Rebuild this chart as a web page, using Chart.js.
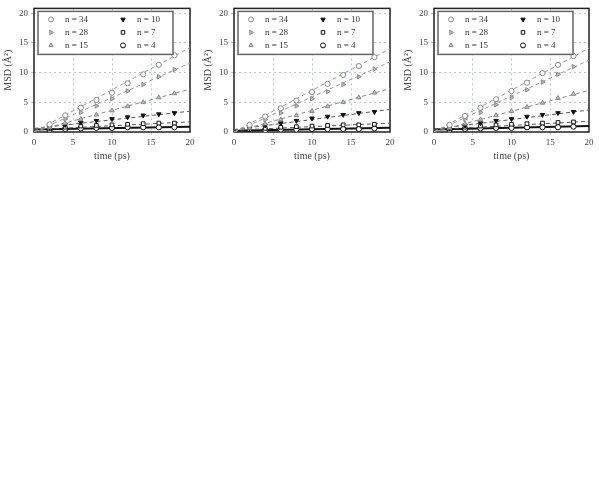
<!DOCTYPE html>
<html>
<head>
<meta charset="utf-8">
<script src="https://cdn.jsdelivr.net/npm/chart.js@4/dist/chart.umd.min.js"></script>
<style>
  html, body { margin: 0; padding: 0; background: #fff; }
  body { width: 599px; height: 496px; position: relative; overflow: hidden; }
  .panel { position: absolute; top: 0; height: 170px; }
</style>
</head>
<body>
<div class="panel" style="left:0px;width:200px"><canvas id="c1"></canvas></div>
<div class="panel" style="left:200px;width:200px"><canvas id="c2"></canvas></div>
<div class="panel" style="left:400px;width:199px"><canvas id="c3"></canvas></div>
<script>
// ---- data ----
const times = [2, 4, 6, 8, 10, 12, 14, 16, 18];
const fitX = [0, 20];
const xTicks = [0, 5, 10, 15, 20];
const yTicks = [0, 5, 10, 15, 20];
const seriesNames = ["n = 34", "n = 28", "n = 15", "n = 10", "n = 7", "n = 4"];

// panel 1
const p1_n34 = [1.3, 2.8, 4.1, 5.4, 6.6, 8.2, 9.7, 11.3, 12.9];
const p1_n28 = [1.1, 2.2, 3.3, 4.4, 5.6, 6.9, 8.0, 9.3, 10.5];
const p1_n15 = [0.8, 1.5, 2.2, 2.9, 3.6, 4.3, 5.0, 5.8, 6.5];
const p1_n10 = [0.7, 1.2, 1.6, 1.9, 2.2, 2.5, 2.8, 3.0, 3.2];
const p1_n7  = [0.5, 0.8, 1.0, 1.1, 1.2, 1.3, 1.4, 1.5, 1.5];
const p1_n4  = [0.3, 0.5, 0.6, 0.7, 0.7, 0.8, 0.8, 0.8, 0.8];
const p1_fits = [[0, 14.2], [0, 11.6], [0.1, 7.2], [0.6, 3.5], [0.4, 1.7], [0.4, 0.9]];

// panel 2
const p2_n34 = [1.2, 2.6, 4.0, 5.3, 6.7, 8.1, 9.6, 11.1, 12.6];
const p2_n28 = [1.0, 2.1, 3.2, 4.4, 5.6, 6.8, 8.0, 9.3, 10.6];
const p2_n15 = [0.7, 1.4, 2.1, 2.8, 3.5, 4.3, 5.0, 5.8, 6.6];
const p2_n10 = [0.6, 1.1, 1.5, 1.9, 2.3, 2.6, 2.9, 3.2, 3.4];
const p2_n7  = [0.4, 0.6, 0.8, 0.9, 1.0, 1.1, 1.2, 1.2, 1.3];
const p2_n4  = [0.2, 0.3, 0.4, 0.4, 0.5, 0.5, 0.5, 0.5, 0.6];
const p2_fits = [[0, 14.0], [0, 11.8], [0, 7.3], [0.4, 3.8], [0.3, 1.5], [0.2, 0.7]];

// panel 3
const p3_n34 = [1.2, 2.7, 4.1, 5.5, 6.9, 8.3, 9.9, 11.3, 12.8];
const p3_n28 = [1.0, 2.2, 3.3, 4.6, 5.8, 7.1, 8.4, 9.7, 11.0];
const p3_n15 = [0.7, 1.4, 2.1, 2.8, 3.5, 4.2, 4.9, 5.7, 6.4];
const p3_n10 = [0.6, 1.1, 1.5, 1.9, 2.2, 2.6, 2.9, 3.2, 3.4];
const p3_n7  = [0.5, 0.8, 1.0, 1.2, 1.3, 1.4, 1.5, 1.6, 1.7];
const p3_n4  = [0.3, 0.5, 0.6, 0.7, 0.7, 0.8, 0.8, 0.8, 0.9];
const p3_fits = [[0, 14.1], [0, 12.1], [0, 7.0], [0.5, 3.7], [0.4, 1.8], [0.4, 1.0]];

// ---- styles ----
const markerStyles = [
  { pointStyle: 'circle',   rotation: 0,   color: '#8a8a8a', fill: '#ffffff' },
  { pointStyle: 'triangle', rotation: 90,  color: '#8a8a8a', fill: '#bdbdbd' },
  { pointStyle: 'triangle', rotation: 0,   color: '#8a8a8a', fill: '#bdbdbd' },
  { pointStyle: 'triangle', rotation: 180, color: '#111111', fill: '#111111' },
  { pointStyle: 'rect',     rotation: 0,   color: '#111111', fill: '#ffffff' },
  { pointStyle: 'circle',   rotation: 0,   color: '#111111', fill: '#ffffff' }
];
const fitStyles = [
  { color: '#9a9a9a', dash: [4, 3], width: 1 },
  { color: '#9a9a9a', dash: [4, 3], width: 1 },
  { color: '#8a8a8a', dash: [4, 3], width: 1 },
  { color: '#555555', dash: [4, 3], width: 1 },
  { color: '#555555', dash: [4, 3], width: 1 },
  { color: '#111111', dash: [],     width: 2 }
];

const frameLegend = {
  id: 'frameLegend',
  beforeDatasetsDraw(chart) {
    const { ctx, chartArea: a } = chart;
    ctx.save();
    ctx.strokeStyle = '#222';
    ctx.lineWidth = 1.5;
    ctx.strokeRect(a.left, a.top, a.right - a.left, a.bottom - a.top);
    ctx.restore();
  },
  afterDatasetsDraw(chart) {
    const { ctx, chartArea: a } = chart;
    const bx = a.left + 4, by = a.top + 3, bw = 135, bh = 43;
    ctx.save();
    ctx.fillStyle = '#fff';
    ctx.fillRect(bx, by, bw, bh);
    ctx.strokeStyle = '#666';
    ctx.lineWidth = 1.5;
    ctx.strokeRect(bx, by, bw, bh);
    ctx.font = '9px "Liberation Serif", serif';
    ctx.textBaseline = 'middle';
    for (let i = 0; i < 6; i++) {
      const col = Math.floor(i / 3), row = i % 3;
      const mx = bx + 13 + col * 72, my = by + 8 + row * 13;
      const m = markerStyles[i];
      ctx.strokeStyle = m.color;
      ctx.fillStyle = m.fill;
      ctx.lineWidth = 1;
      Chart.helpers.drawPoint(ctx, { pointStyle: m.pointStyle, rotation: m.rotation, radius: 2.5, borderWidth: 1 }, mx, my);
      ctx.fillStyle = '#333';
      ctx.fillText(seriesNames[i], mx + 14, my);
    }
    ctx.restore();
  }
};

function makeChart(id, series, fits) {
  const datasets = [];
  series.forEach((vals, i) => {
    const m = markerStyles[i];
    datasets.push({
      type: 'scatter',
      data: times.map((t, k) => ({ x: t, y: vals[k] })),
      pointStyle: m.pointStyle,
      rotation: m.rotation,
      pointRadius: 2.6,
      pointBorderWidth: 1,
      borderColor: m.color,
      backgroundColor: m.fill,
      showLine: false,
      order: 1
    });
  });
  fits.forEach((f, i) => {
    const s = fitStyles[i];
    datasets.push({
      type: 'scatter',
      data: fitX.map((t, k) => ({ x: t, y: f[k] })),
      showLine: true,
      pointRadius: 0,
      borderColor: s.color,
      borderDash: s.dash,
      borderWidth: s.width,
      order: 2
    });
  });
  const tickFont = { family: '"Liberation Serif", serif', size: 9 };
  return new Chart(document.getElementById(id), {
    type: 'scatter',
    data: { datasets },
    plugins: [frameLegend],
    options: {
      responsive: true,
      maintainAspectRatio: false,
      animation: false,
      layout: { padding: { top: 3, right: 10, left: 2, bottom: 8 } },
      plugins: { legend: { display: false }, tooltip: { enabled: false } },
      scales: {
        x: {
          type: 'linear', min: 0, max: 20,
          afterBuildTicks: s => { s.ticks = xTicks.map(v => ({ value: v })); },
          afterFit: s => { s.height = 30; },
          ticks: { font: tickFont, color: '#444', padding: 2, maxRotation: 0 },
          grid: {
            color: c => (c.tick && (c.tick.value === 0 || c.tick.value === 20)) ? 'rgba(0,0,0,0)' : '#b8c4dc',
            tickLength: 3, drawTicks: true, lineWidth: 1
          },
          border: { display: false, dash: [2, 3] },
          title: { display: true, text: 'time (ps)', font: { family: '"Liberation Serif", serif', size: 10 }, color: '#444', padding: { top: 1, bottom: 0 } }
        },
        y: {
          type: 'linear', min: 0, max: 20.8,
          afterBuildTicks: s => { s.ticks = yTicks.map(v => ({ value: v })); },
          afterFit: s => { s.width = 32; },
          ticks: { font: tickFont, color: '#444', padding: 3 },
          grid: {
            color: c => (c.tick && c.tick.value === 0) ? 'rgba(0,0,0,0)' : '#b8c4dc',
            tickLength: 3, lineWidth: 1
          },
          border: { display: false, dash: [2, 3] },
          title: { display: true, text: 'MSD (Å²)', font: { family: '"Liberation Serif", serif', size: 10 }, color: '#444', padding: { top: 0, bottom: 2 } }
        }
      }
    }
  });
}

makeChart('c1', [p1_n34, p1_n28, p1_n15, p1_n10, p1_n7, p1_n4], p1_fits);
makeChart('c2', [p2_n34, p2_n28, p2_n15, p2_n10, p2_n7, p2_n4], p2_fits);
makeChart('c3', [p3_n34, p3_n28, p3_n15, p3_n10, p3_n7, p3_n4], p3_fits);
</script>
</body>
</html>
